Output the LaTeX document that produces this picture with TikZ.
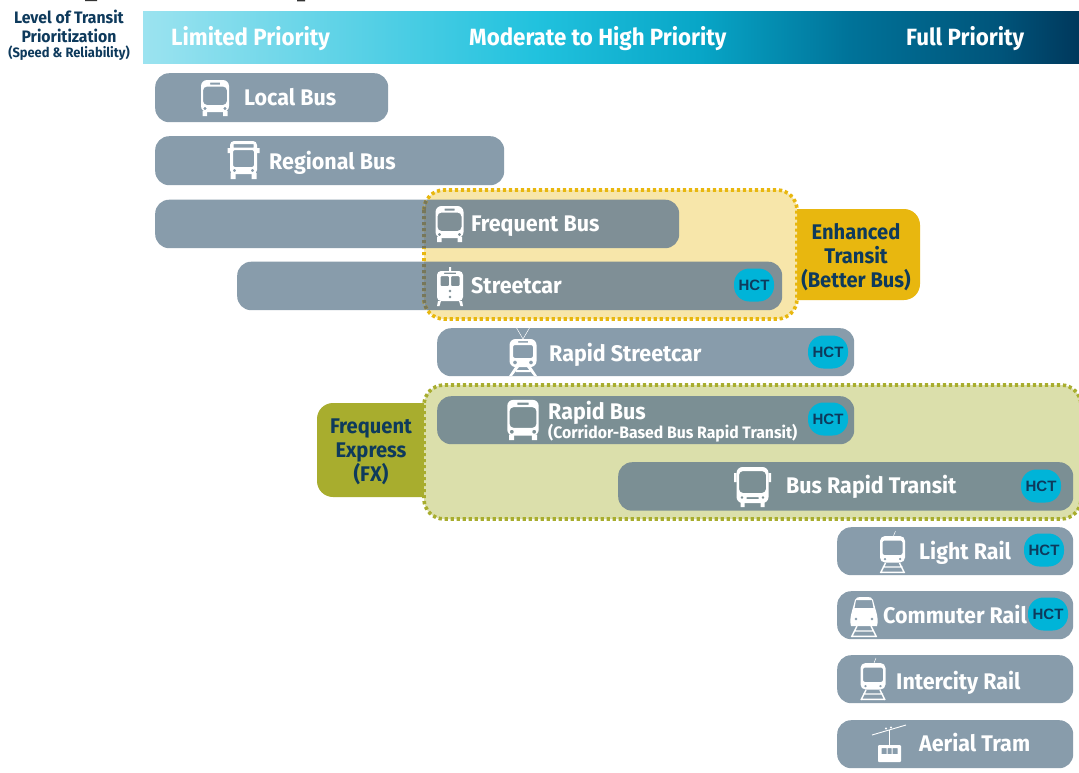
\documentclass[tikz,border=0pt]{standalone}
\usepackage{fontspec}
\setmainfont{Fira Sans}[FakeStretch=0.95]
\newfontfamily\hctfont{Liberation Sans}
\definecolor{barc}{HTML}{889CAB}
\definecolor{baryel}{HTML}{7F8F96}
\definecolor{barfx}{HTML}{7B8F94}
\definecolor{navy}{HTML}{0E3A5C}
\definecolor{yelfill}{HTML}{F7E6AA}
\definecolor{yelline}{HTML}{E8B70F}
\definecolor{yeldark}{HTML}{77775A}
\definecolor{fxfill}{HTML}{DBDFAB}
\definecolor{fxline}{HTML}{A8AD2E}
\definecolor{hct}{HTML}{00B4D8}
\pgfdeclarehorizontalshading{hdr}{100bp}{
 rgb(0bp)=(0.61,0.89,0.94);
 rgb(25bp)=(0.61,0.89,0.94);
 rgb(46bp)=(0.13,0.76,0.87);
 rgb(54.75bp)=(0.03,0.65,0.78);
 rgb(62.75bp)=(0,0.45,0.60);
 rgb(70.75bp)=(0,0.33,0.48);
 rgb(75bp)=(0,0.22,0.36);
 rgb(100bp)=(0,0.22,0.36)}
\tikzset{
 x=1pt,y=-1pt,
 barbox/.style={fill=barc,draw=none,rounded corners=14pt,anchor=north west,inner sep=0pt},
 lbl/.style={anchor=base west,inner sep=0pt,text=white,font=\bfseries\fontsize{22.6}{24}\selectfont},
 sublbl/.style={anchor=base west,inner sep=0pt,text=white,font=\bfseries\fontsize{16.6}{18}\selectfont},
 hdrlbl/.style={anchor=base west,inner sep=0pt,text=white,font=\bfseries\fontsize{23.5}{26}\selectfont},
 tablbl/.style={align=center,inner sep=0pt,text=navy,font=\bfseries\fontsize{21.2}{24}\selectfont},
 titlelbl/.style={anchor=base,inner sep=0pt,text=navy,font=\bfseries\fontsize{16.6}{18}\selectfont},
 titlesub/.style={anchor=base,inner sep=0pt,text=navy,font=\bfseries\fontsize{13.6}{16}\selectfont},
 hctpill/.style={fill=hct,rounded corners=15.5pt,minimum width=40pt,minimum height=33pt,inner sep=0pt,text=navy,font=\hctfont\bfseries\fontsize{15}{18}\selectfont},
 dotline/.style={line width=3.6pt,dash pattern=on 3.2pt off 2.8pt},
 ic/.style={fill=white,draw=none},
 busicon/.pic={
  \fill[ic,even odd rule] [rounded corners=6pt] (-14,-18) rectangle (14,14) [rounded corners=4pt] (-12,-11.5) rectangle (12,7) [sharp corners] (-5,-15.5) rectangle (5,-13.5) (-10,10.5) circle (1.8pt) (10,10.5) circle (1.8pt);
  \fill[ic] (-12.5,13) rectangle (-8,18) (8,13) rectangle (12.5,18);},
 regicon/.pic={
  \fill[ic,even odd rule] [rounded corners=4pt] (-13.5,-19) rectangle (13.5,14) [rounded corners=2pt] (-10.5,-10) rectangle (10.5,7) [sharp corners] (-10,-16) rectangle (10,-12.5) (-9,10.5) circle (1.8pt) (9,10.5) circle (1.8pt);
  \fill[ic] (-13,13) rectangle (-8,19) (8,13) rectangle (13,19) (-16,-12) rectangle (-13.5,-7) (13.5,-12) rectangle (16,-7);},
 coachicon/.pic={
  \fill[ic,even odd rule] [rounded corners=6pt] (-16,-20) rectangle (16,16) [rounded corners=4pt] (-13.5,-16) rectangle (13.5,6) [sharp corners] (-10.5,10.5) circle (1.6pt) (10.5,10.5) circle (1.6pt) (-6,10) rectangle (6,12);
  \fill[ic] (-12,15) rectangle (-8,20) (8,15) rectangle (12,20) (-18.5,-14) rectangle (-16,-5) (16,-14) rectangle (18.5,-5);},
 scaricon/.pic={
  \fill[ic,even odd rule] [rounded corners=4pt] (-13,-15) rectangle (13,15) [rounded corners=1pt] (-9.5,-10) rectangle (-1,0) (1,-10) rectangle (9.5,0) [sharp corners] (-6,-13.5) rectangle (6,-12) (0,5) circle (1.6pt) (0,11) circle (1.6pt);
  \fill[ic] (-1,-19) rectangle (1,-15) (-12,15) -- (-9,15) -- (-10.5,20) -- (-13,20) -- cycle (12,15) -- (9,15) -- (10.5,20) -- (13,20) -- cycle;},
 rsicon/.pic={
  \fill[ic,even odd rule] [rounded corners=6pt] (-13.5,-13) rectangle (13.5,15) [rounded corners=2pt] (-10,-7) rectangle (10,6) [sharp corners] (-5,-11) rectangle (5,-9.5) (-8,10.5) circle (2pt) (8,10.5) circle (2pt);
  \draw[white,line width=.5pt] (-7,-25) -- (0,-13) -- (7,-25);
  \fill[ic] (-8,15) -- (-4,15) -- (-11,24) -- (-14,24) -- cycle (8,15) -- (4,15) -- (11,24) -- (14,24) -- cycle (-7,18) rectangle (7,20);},
 lrticon/.pic={
  \fill[ic,even odd rule] [rounded corners=5pt] (-12.5,-17) rectangle (12.5,9.5) [rounded corners=2pt] (-10,-12.5) rectangle (10,2) [sharp corners] (-7.5,6) circle (1.5pt) (7.5,6) circle (1.5pt);
  \draw[white,line width=.5pt] (1,-17) -- (3,-22);
  \draw[white,line width=1.4pt] (-7,10) -- (-12,20) (7,10) -- (12,20) (-10,14) -- (10,14) (-12,19.3) -- (12,19.3);},
 comicon/.pic={
  \fill[ic,even odd rule] (-13,10) .. controls (-15,2) and (-12,-4) .. (-9,-16) .. controls (-8,-18.5) and (-6,-19) .. (-4,-19) -- (4,-19) .. controls (6,-19) and (8,-18.5) .. (9,-16) .. controls (12,-4) and (15,2) .. (13,10) -- cycle
   (-8,-16) -- (8,-16) -- (9.5,-8) -- (-9.5,-8) -- cycle (-8,3) circle (1.6pt) (8,3) circle (1.6pt);
  \draw[white,line width=1.4pt] (-7,10) -- (-12.5,21) (7,10) -- (12.5,21) (-10,15) -- (10,15) (-12.5,20.3) -- (12.5,20.3);},
 aericon/.pic={
  \draw[white,line width=.9pt] (-17.5,-10) -- (16.5,-20);
  \draw[white,line width=1pt] (0,-15) -- (0,0);
  \fill[ic] (-3.5,-16.5) circle (1.2pt) (1.5,-17.5) circle (1.2pt);
  \fill[ic,even odd rule] [rounded corners=1pt] (-11.5,0) rectangle (11.5,17) [sharp corners] (-8,3) rectangle (-3,9) (-2,3) rectangle (2,9) (3,3) rectangle (8,9);}
}
\begin{document}
\begin{tikzpicture}
\clip (0,0) rectangle (1079,772);
\fill[white] (0,0) rectangle (1079,772);
% cropped marks along the top edge
\fill[black!80] (85,0) rectangle (97,1.2) (297,0) rectangle (305,1.4);
% header
\node[shading=hdr,anchor=north west,minimum width=936pt,minimum height=52pt,inner sep=0pt] (hdrbar) at (143,11) {};
\node[hdrlbl] (hlimited) at (171,45.5) {Limited Priority};
\node[hdrlbl] (hmoderate) at (469,45.5) {Moderate to High Priority};
\node[hdrlbl] (hfull) at (906,45.5) {Full Priority};
\node[titlelbl] (t1) at (69,23) {Level of Transit};
\node[titlelbl] (t2) at (69,42) {Prioritization};
\node[titlesub] (t3) at (69,57.5) {(Speed \& Reliability)};
% tabs
\fill[yelline] (797,209) [rounded corners=16pt] -- (920,209) -- (920,300) [sharp corners] -- (797,300) -- cycle;
\fill[fxline] (424,403) [rounded corners=16pt] -- (317,403) -- (317,497) [sharp corners] -- (424,497) -- cycle;
% plain bars
\node[barbox,minimum width=233pt,minimum height=49pt] (blocal) at (155,73) {};
\node[barbox,minimum width=349pt,minimum height=49pt] (bregional) at (155,136) {};
\node[barbox,minimum width=524pt,minimum height=48.5pt] (bfrequent) at (155,199.5) {};
\node[barbox,minimum width=545pt,minimum height=48.5pt] (bstreetcar) at (237,261.5) {};
\node[barbox,minimum width=417pt,minimum height=48pt] (brapidsc) at (437,328) {};
\node[barbox,minimum width=236pt,minimum height=48pt] (blight) at (837,527) {};
\node[barbox,minimum width=236pt,minimum height=48pt] (bcommuter) at (837,591) {};
\node[barbox,minimum width=236pt,minimum height=48pt] (bintercity) at (837,655) {};
\node[barbox,minimum width=236pt,minimum height=48pt] (baerial) at (837,720) {};
% enhanced transit band
\fill[yelfill,rounded corners=20pt] (424,190) rectangle (797,319);
\begin{scope}
 \clip[rounded corners=20pt] (424,190) rectangle (797,319);
 \node[barbox,fill=baryel,minimum width=524pt,minimum height=48.5pt] (bfrequentd) at (155,199.5) {};
 \node[barbox,fill=baryel,minimum width=545pt,minimum height=48.5pt] (bstreetcard) at (237,261.5) {};
\end{scope}
\draw[yelline,dotline,rounded corners=20pt] (424,190) rectangle (797,319);
\begin{scope}
 \clip (155,199.5) rectangle (679,248) (237,261.5) rectangle (782,310);
 \draw[yeldark,dotline,rounded corners=20pt] (424,190) rectangle (797,319);
\end{scope}
% frequent express band
\fill[fxfill,rounded corners=20pt] (424,385) rectangle (1081,519);
\node[barbox,fill=barfx,minimum width=417pt,minimum height=48pt] (brapidbus) at (437,396) {};
\node[barbox,fill=barfx,minimum width=455pt,minimum height=48.5pt] (bbrt) at (618,462) {};
\draw[fxline,dotline,rounded corners=20pt] (424,385) rectangle (1081,519);
% tab labels
\node[tablbl] (tenh) at (856,257) {Enhanced\\Transit\\(Better Bus)};
\node[tablbl] (tfx) at (371,452) {Frequent\\Express\\(FX)};
% labels
\node[lbl] (llocal) at (244,105.8) {Local Bus};
\node[lbl] (lregional) at (269,169.3) {Regional Bus};
\node[lbl] (lfrequent) at (471,231.3) {Frequent Bus};
\node[lbl] (lstreetcar) at (471,293.3) {Streetcar};
\node[lbl] (lrapidsc) at (549,361.5) {Rapid Streetcar};
\node[lbl] (lrapidbus) at (548,419.5) {Rapid Bus};
\node[sublbl] (lcorridor) at (548,438) {(Corridor-Based Bus Rapid Transit)};
\node[lbl] (lbrt) at (786,493.5) {Bus Rapid Transit};
\node[lbl] (llight) at (919,559.3) {Light Rail};
\node[lbl] (lcommuter) at (883,623.8) {Commuter Rail};
\node[lbl] (lintercity) at (896,689.3) {Intercity Rail};
\node[lbl] (laerial) at (919,751.8) {Aerial Tram};
% HCT pills
\node[hctpill] (h1) at (754,285) {HCT};
\node[hctpill] (h2) at (828,352) {HCT};
\node[hctpill] (h3) at (828,419) {HCT};
\node[hctpill] (h4) at (1041,486) {HCT};
\node[hctpill] (h5) at (1044,550) {HCT};
\node[hctpill] (h6) at (1048,614) {HCT};
% icons
\pic at (215,98) {busicon};
\pic at (243.5,160) {regicon};
\pic at (449.5,224) {busicon};
\pic at (450,286) {scaricon};
\pic at (523,352) {rsicon};
\pic[scale=1.12] at (523,420) {busicon};
\pic at (752.5,487) {coachicon};
\pic at (892.5,553) {lrticon};
\pic at (864,616) {comicon};
\pic at (873,680) {lrticon};
\pic at (889.5,745) {aericon};
\end{tikzpicture}
\end{document}
